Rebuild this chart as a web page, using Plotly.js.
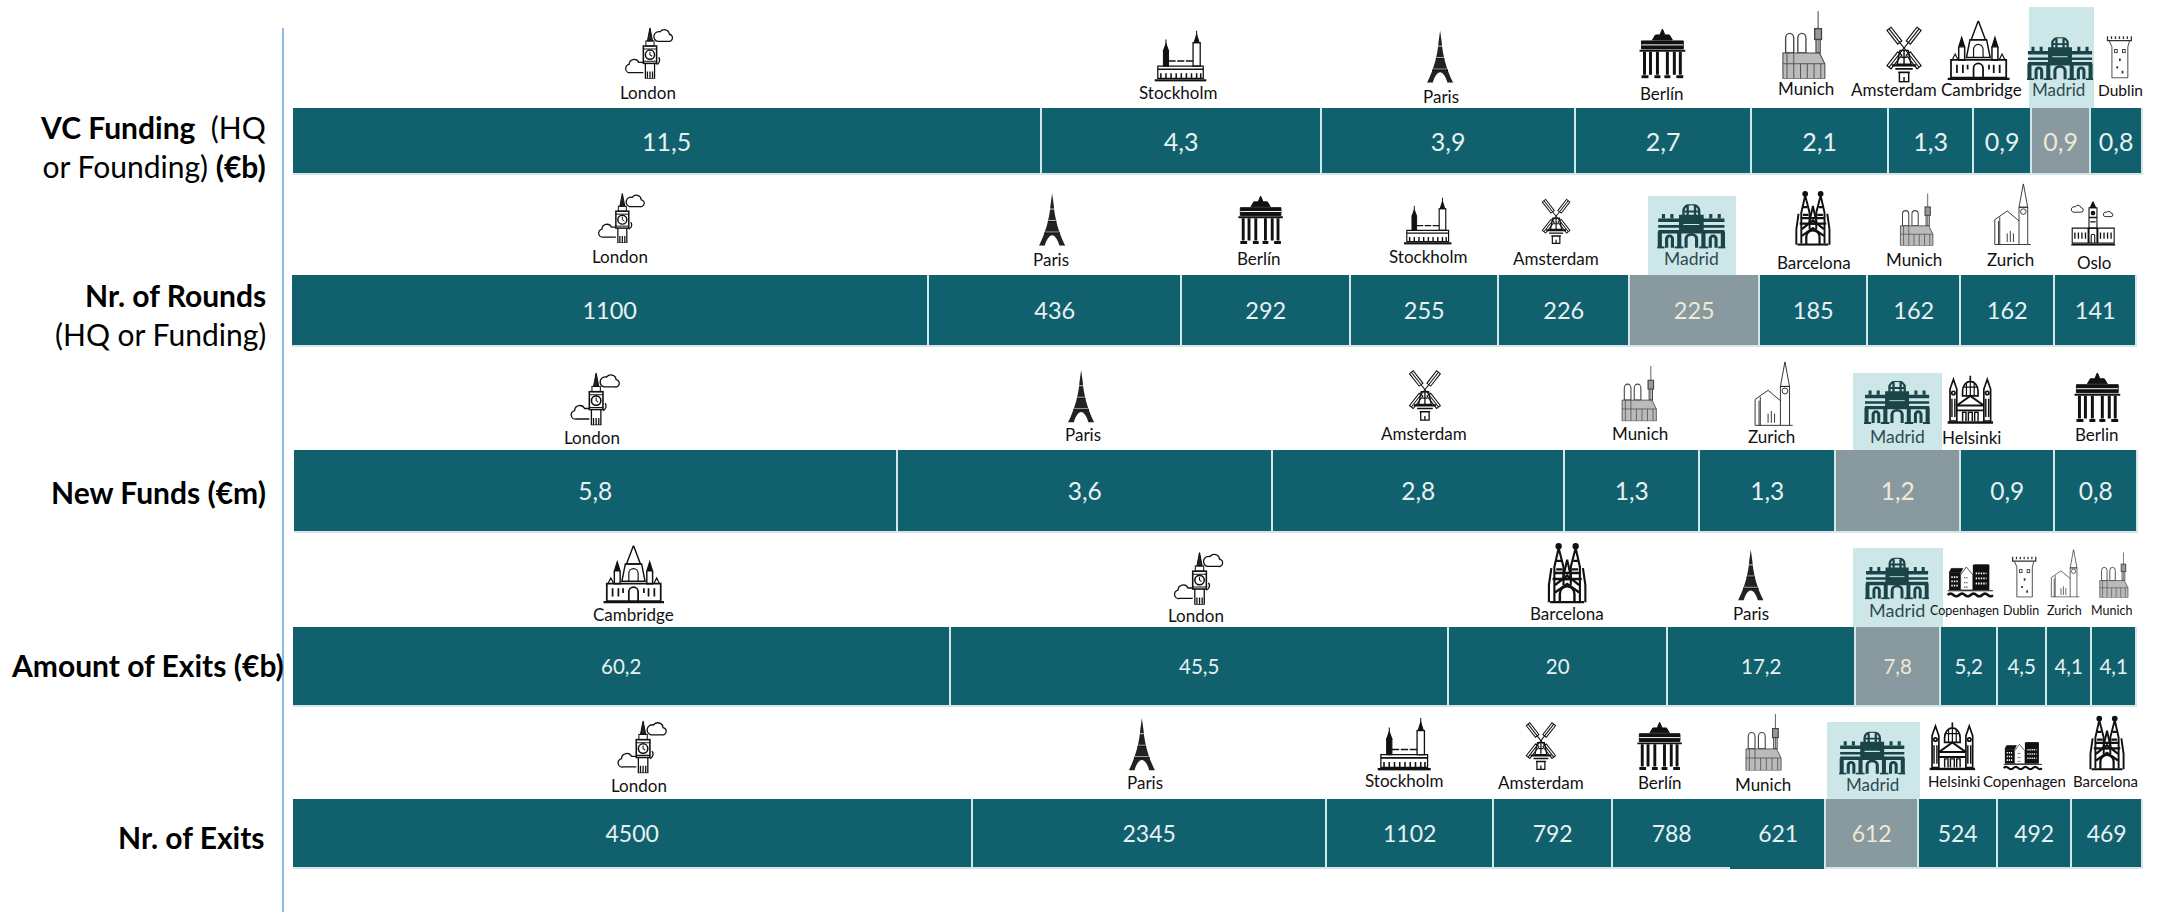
<!DOCTYPE html>
<html><head><meta charset="utf-8">
<script src="https://cdn.plot.ly/plotly-3.0.1.min.js"></script>
<style>html,body{margin:0;padding:0;background:#fff}#c{width:2165px;height:912px}</style>
</head><body><div id="c"></div>
<script>
// ---------- data ----------
const rowNames = ["VC Funding","Nr. of Rounds","New Funds","Amount of Exits","Nr. of Exits"];
const rowLabels = [
  "<b>VC Funding</b>  (HQ<br>or Founding) <b>(€b)</b>",
  "<b>Nr. of Rounds</b><br>(HQ or Funding)",
  "<b>New Funds (€m)</b>",
  "<b>Amount of Exits (€b)</b>",
  "<b>Nr. of Exits</b>"
];
const citiesVC = ["London","Stockholm","Paris","Berlín","Munich","Amsterdam","Cambridge","Madrid","Dublin"];
const valuesVC = [11.5,4.3,3.9,2.7,2.1,1.3,0.9,0.9,0.8];
const citiesRounds = ["London","Paris","Berlín","Stockholm","Amsterdam","Madrid","Barcelona","Munich","Zurich","Oslo"];
const valuesRounds = [1100,436,292,255,226,225,185,162,162,141];
const citiesFunds = ["London","Paris","Amsterdam","Munich","Zurich","Madrid","Helsinki","Berlin"];
const valuesFunds = [5.8,3.6,2.8,1.3,1.3,1.2,0.9,0.8];
const citiesAmount = ["Cambridge","London","Barcelona","Paris","Madrid","Copenhagen","Dublin","Zurich","Munich"];
const valuesAmount = [60.2,45.5,20,17.2,7.8,5.2,4.5,4.1,4.1];
const citiesExits = ["London","Paris","Stockholm","Amsterdam","Berlín","Munich","Madrid","Helsinki","Copenhagen","Barcelona"];
const valuesExits = [4500,2345,1102,792,788,621,612,524,492,469];
const allCities = [citiesVC,citiesRounds,citiesFunds,citiesAmount,citiesExits];
const allValues = [valuesVC,valuesRounds,valuesFunds,valuesAmount,valuesExits];

// ---------- layout placement (pixels on the 2165x912 page) ----------
const W = 2165, H = 912, S = 2165/1568;
const rowBox = [
  {x0:293,x1:2143,y0:108,y1:175,font:25,labelY:146,labelX:268},
  {x0:292,x1:2137,y0:275,y1:347,font:23.5,labelY:314,labelX:268},
  {x0:294,x1:2138,y0:450,y1:533,font:24.5,labelY:492,labelX:268},
  {x0:293,x1:2137,y0:627,y1:707,font:20.5,labelY:665,labelX:286},
  {x0:293,x1:2143,y0:799,y1:869,font:23,labelY:837,labelX:267}
];
// per city, in order: icon centre x, icon top, icon bottom, label x, label y, label size (shrunk-picture units)
const place = [
 [[470,20,57,469,67,17],[855,22,59,853,67,17],[1043,22,60,1044,70,17],[1204,21,57,1204,68,17],[1305,8,57,1308,64,17],[1379,18,60,1372,65,17],[1433,15,58,1435,65,17],[1492,27,58,1491,65,17],[1535,25,57,1536,65,15.5]],
 [[450,140,176,449,186,17],[762,140,178,761,188,17],[913,142,177,912,187,17],[1034,143,177,1034,186,17],[1127,143,177,1127,187,17],[1225,148,180,1225,187,17.5],[1313,138,178,1314,190,17],[1387,140,178,1386,188,17],[1458,133,178,1456,188,17],[1516,146,178,1517,190,17]],
 [[431,270,308,429,317,17],[783,268,306,784,315,17],[1032,267,305,1031,314,17],[1186,265,305,1188,314,17],[1285,262,309,1283,316,17],[1374,276,307,1374,316,17.5],[1427,272,307,1428,317,17],[1519,270,306,1519,315,17]],
 [[459,395,437,459,445,17],[868,400,438,866,446,17],[1135,393,437,1135,444,17],[1268,398,435,1268,444,17],[1374,404,434,1374,442,18],[1427,407,433,1423,442,12.5],[1466,402,433,1464,442,12.5],[1496,398,433,1495,442,12.5],[1530,400,433,1529,442,12.5]],
 [[465,522,560,463,569,17],[827,520,558,829,567,17],[1017,520,558,1017,565,17],[1116,522,558,1116,567,17],[1202,523,558,1202,567,17],[1276,517,558,1277,568,17],[1356,530,561,1356,568,17],[1414,523,558,1415,566,15],[1465,536,558,1466,566,15],[1526,518,558,1525,566,15]]
];
// Madrid highlight panels (full px)
const madridPanels = [[2029,2094,7,108],[1648,1736,196,275],[1853,1942,373,450],[1853,1943,548,627],[1827,1920,722,799]];

// ---------- icons ----------
const icon = {
 London:[96,`<path d="M50 0L45 26H55Z" fill="#222"/><rect x="42" y="26" width="16" height="10"/><rect x="37" y="36" width="26" height="34" stroke-width="3"/><circle cx="50" cy="53" r="9" stroke-width="3"/><path d="M50 47v6l4 3M37 42h26M37 66h26" /><path d="M41 70V100H59V70M45 86v14M50 86v14M55 86v14" stroke-width="2.5"/><path d="M65 27H86a7 7 0 0 0 2-14a10 10 0 0 0-18-5a9 9 0 0 0-5 19Z" stroke-width="2.5"/><path d="M37 88H12a8 8 0 0 1-3-16a10 10 0 0 1 19-4h9M63 72a9 9 0 0 0 4-14" stroke-width="2.5"/>`],
 Stockholm:[105,`<path d="M84 0v12M24 18v12" stroke-width="2"/><path d="M84 8l-5 16h10zM24 26l-5 14h10z" fill="#111"/><rect x="77" y="24" width="14" height="46" stroke-width="2.5"/><rect x="19" y="40" width="10" height="30" fill="#111"/><path d="M29 60H77" stroke-width="3" stroke-dasharray="14 3"/><path d="M8 70H97V94H8Z" stroke-width="2.5"/><path d="M8 76H97M14 94v-10M24 94v-10M34 94v-10M44 94v-10M54 94v-10M64 94v-10M74 94v-10M84 94v-10M92 94v-10" stroke-width="3"/><path d="M2 98H103" stroke-width="5"/>`],
 Paris:[58,`<path d="M29 0L26 22C24 46 18 72 4 100H15C18 88 24 80 29 80S40 88 43 100H54C40 72 34 46 32 22Z" fill="#222" stroke="none"/><path d="M22 52H36M16 74H42M25 30h8" stroke="#fff" stroke-width="1.5"/><path d="M14 76h30M21 54h16" stroke="#111" stroke-width="2.5"/>`],
 Berlin:[100,`<path d="M50 0l5 12h9l6 10H30l6-10h9z" fill="#111"/><path d="M8 24H92V40H8Z" fill="#111"/><path d="M8 32H92" stroke="#fff" stroke-width="2"/><path d="M4 44H96" stroke-width="4"/><path d="M14 46V92M26 46V92M40 46V92M60 46V92M74 46V92M86 46V92" stroke-width="6"/><path d="M8 96H22M34 96H46M54 96H66M78 96H92" stroke-width="6"/>`],
 Munich:[72,`<g stroke="#444"><path d="M60 0V100" stroke-width="1.5"/><rect x="55" y="26" width="10" height="16" fill="#999"/><path d="M57 42V62h6V42" stroke-width="2"/><path d="M12 40a6 7 0 0 1 12 0V62H12ZM30 40a6 7 0 0 1 12 0V62H30Z" stroke-width="2"/><path d="M8 62H62L70 78V100H8Z" fill="#bbb" stroke-width="1.5"/><path d="M8 78H70M14 62v38M24 62v38M34 78v22M44 78v22M54 78v22M64 78v22" stroke="#555" stroke-width="1.5"/></g>`],
 Amsterdam:[70,`<g stroke-width="2" transform="translate(35 40)"><g transform="rotate(38)"><rect x="-4.5" y="-42" width="9" height="30"/><rect x="-4.5" y="12" width="9" height="30"/><path d="M0-42V42"/></g><g transform="rotate(-38)"><rect x="-4.5" y="-42" width="9" height="30"/><rect x="-4.5" y="12" width="9" height="30"/><path d="M0-42V42"/></g></g><path d="M28 44h14l5 24H23Z M35 44V68M30 56h10" stroke-width="2.5"/><path d="M14 70H56" stroke-width="4"/><path d="M20 76H50M25 82H45" stroke-width="3"/><path d="M27 82V98H43V82M35 98V90" stroke-width="2.5"/>`],
 Cambridge:[105,`<path d="M52 0L40 32H64Z" stroke-width="2.5"/><path d="M38 32H66L72 62H32Z" stroke-width="2.5"/><path d="M44 62V48a8 8 0 0 1 16 0V62"/><path d="M24 28l-5 16h10zM80 28l-5 16h10z" fill="#111"/><path d="M19 44V66h10V44M75 44V66h10V44" stroke-width="2.5"/><path d="M8 66l5-10 5 10M87 66l5-10 5 10"/><path d="M6 66H99V96H6Z" stroke-width="3"/><path d="M44 96V80a8 8 0 0 1 16 0V96M16 74v14M26 74v14M78 74v14M88 74v14M34 74v8M70 74v8" stroke-width="3"/><path d="M0 98H105" stroke-width="4"/>`],
 Madrid:[155,`<g stroke="#1B4449" stroke-width="5" transform="scale(1.19 1)"><path d="M50 30V14a15 14 0 0 1 30 0V30M58 30V4M72 30V4M50 16H80" stroke-width="4.5"/><path d="M2 36H128" stroke-width="8"/><path d="M44 26H86V62H44Z" fill="#1B4449"/><path d="M50 46H80" stroke="#CDE7E9" stroke-width="3"/><path d="M12 32v-10M28 32v-10M102 32v-10M118 32v-10" stroke-width="6"/><path d="M2 50H128" stroke-width="6"/><path d="M2 62H128" stroke-width="8"/><path d="M5 62V98M125 62V98M42 62V98M88 62V98" stroke-width="8"/><path d="M18 98V78a5 6 0 0 1 11 0V98M55 98V78a10 10 0 0 1 20 0V98M101 98V78a5 6 0 0 1 11 0V98" stroke-width="6"/><path d="M0 98H14M33 98H50M80 98H97M116 98H130" stroke-width="5"/></g>`],
 Dublin:[66,`<g stroke="#333"><path d="M6 4v10h54V4M15 4v6M24 4v6M33 4v6M42 4v6M51 4v6" stroke-width="3"/><path d="M10 14L16 28V98H52V28L56 14" stroke-width="2"/><rect x="22" y="34" width="6" height="7" stroke-width="2"/><rect x="40" y="34" width="6" height="7" stroke-width="2"/><path d="M34 54v6M28 72v5M40 82v6" stroke-width="4"/></g>`],
 Barcelona:[68,`<g stroke-width="3.5"><circle cx="20" cy="6" r="3.5" fill="#111"/><circle cx="48" cy="6" r="3.5" fill="#111"/><path d="M20 9L13 40V96M20 9L28 40V70M48 9L40 40V70M48 9L55 40V96"/><path d="M34 28L27 60H41ZM8 42L4 70V98M60 42L64 70V98"/><path d="M6 98H62M10 60H58M14 70L34 54L54 70M14 82L34 68L54 82" stroke-width="4"/><path d="M22 98V84a12 12 0 0 1 24 0V98" stroke-width="4"/><path d="M16 44h10M42 44h10M16 30h8M44 30h8M12 50h44" stroke-width="4"/></g>`],
 Zurich:[67,`<g stroke="#222" stroke-width="1.4"><path d="M50 0L43 38H57Z"/><path d="M43 38H57V98H43Z"/><circle cx="50" cy="45" r="4.5"/><path d="M4 58L24 44L43 60M4 58V98H43M12 54V98M10 98V60M24 80v14M29 76v18M34 80v14"/><path d="M57 98H62"/></g>`],
 Oslo:[103,`<g stroke-width="2.5"><path d="M51 0L45 14H57Z" fill="#111"/><path d="M42 14H60V60H42Z"/><circle cx="51" cy="26" r="4" fill="#111"/><path d="M42 36H60M45 46h12" stroke-width="3"/><path d="M4 60H40V94H4ZM62 60H99V94H62ZM42 60H60V94H42Z"/><path d="M10 70v14M18 70v14M26 70v14M34 70v14M68 70v14M76 70v14M84 70v14M92 70v14" stroke-width="3"/><path d="M47 94V78a4 4 0 0 1 8 0V94"/><path d="M2 98H101" stroke-width="4"/><path d="M6 24H24a5 5 0 0 0 0-10a7 7 0 0 0-13-2a6 6 0 0 0-5 12ZM78 34H92a4 4 0 0 0 0-8a6 6 0 0 0-10-2a5 5 0 0 0-4 10Z" stroke-width="2"/></g>`],
 Helsinki:[98,`<g stroke="#111" stroke-width="3.5"><path d="M49 0v10M33 32a16 20 0 0 1 32 0V42H33Z" fill="#fff"/><path d="M35 24H63M49 12V42M41 14V42M57 14V42" stroke-width="2.5"/><path d="M14 8L7 28V94H21V28ZM84 8L77 28V94H91V28Z"/><circle cx="14" cy="36" r="3.5"/><circle cx="84" cy="36" r="3.5"/><path d="M21 62L49 42L77 62M21 62H77M21 72H77" stroke-width="4"/><path d="M33 94V76h7V94M45 94V76h8V94M58 94V76h7V94M11 48v38M17 48v38M81 48v38M87 48v38" stroke-width="3"/><path d="M2 97H96" stroke-width="5"/></g>`],
 Copenhagen:[130,`<path d="M6 30H38V78H6ZM72 8H118V78H72Z" fill="#111" stroke="none"/><path d="M38 78V36L54 14L72 36V78Z" fill="#fff" stroke-width="2"/><path d="M6 30H38L44 18H12ZM76 8H116V22H76Z" fill="#111"/><path d="M12 42h20M12 54h20M12 66h20M80 32h30M80 46h30M80 60h30" stroke="#fff" stroke-width="5" stroke-dasharray="4 3"/><path d="M48 44h12M48 58h12M48 70h12" stroke-width="3" stroke-dasharray="3 3"/><path d="M2 80H128" stroke-width="3"/><path d="M2 92q8-8 16 0t16 0t16 0t16 0t16 0t16 0t16 0t14 0" stroke-width="7"/>`]
};
function iconUri(name){
  const d = icon[name];
  const s = `<svg xmlns="http://www.w3.org/2000/svg" width="${d[0]*4}" height="400" viewBox="0 0 ${d[0]} 100"><g fill="none" stroke="#111" stroke-width="2">${d[1]}</g></svg>`;
  return "data:image/svg+xml;charset=utf-8," + encodeURIComponent(s);
}
const iconKey = c => c==="Berlín" ? "Berlin" : c;
const fmt = v => String(v).replace(".",",");
const TEAL = "#11606E", GREY = "#88999F", EDGE = "#D5E6E8";

// ---------- build ----------
const traces = [];
const layout = {
  width:W, height:H, margin:{l:0,r:0,t:0,b:0},
  paper_bgcolor:"#fff", plot_bgcolor:"rgba(0,0,0,0)",
  barmode:"stack", bargap:0, showlegend:false,
  font:{family:"Lato, 'Open Sans', sans-serif",color:"#111"},
  annotations:[], images:[], shapes:[]
};
layout.shapes.push({type:"line",xref:"paper",yref:"paper",x0:283/W,x1:283/W,y0:0,y1:1-28/H,line:{color:"#8FB8E2",width:2}});
madridPanels.forEach(p=>layout.shapes.push({type:"rect",layer:"below",xref:"paper",yref:"paper",
  x0:p[0]/W,x1:p[1]/W,y0:1-p[3]/H,y1:1-p[2]/H,fillcolor:"#CDE7E9",line:{width:0}}));

allValues.forEach((vals,r)=>{
  const box = rowBox[r], sfx = r===0?"":String(r+1);
  const total = vals.reduce((a,b)=>a+b,0);
  layout["xaxis"+sfx] = {domain:[box.x0/W,box.x1/W],range:[0,total],visible:false,fixedrange:true,anchor:"y"+sfx};
  layout["yaxis"+sfx] = {domain:[1-box.y1/H,1-box.y0/H],range:[-0.5,0.5],visible:false,fixedrange:true,anchor:"x"+sfx,type:"category"};
  vals.forEach((v,i)=>{
    const city = allCities[r][i], mad = city==="Madrid";
    const edge = (r===4 && city==="Munich") ? TEAL : EDGE;
    traces.push({type:"bar",orientation:"h",x:[v],y:[rowNames[r]],name:city,xaxis:"x"+sfx,yaxis:"y"+sfx,
      text:[fmt(v)],textposition:"inside",insidetextanchor:"middle",textangle:0,constraintext:"none",
      textfont:{family:"Lato, sans-serif",size:box.font,color:mad?"#EFE9D5":"#E6F1F2"},
      marker:{color:mad?GREY:TEAL,line:{color:edge,width:1.6}},
      hovertemplate:city+": %{text}<extra></extra>"});
    const p = place[r][i], k = iconKey(city);
    const top=p[1]*S, bot=p[2]*S, h=bot-top, w=h*icon[k][0]/100, cx=p[0]*S;
    layout.images.push({source:iconUri(k),xref:"paper",yref:"paper",x:(cx-w/2)/W,y:1-top/H,sizex:w/W,sizey:h/H,
      xanchor:"left",yanchor:"top",sizing:"stretch",layer:"above"});
    layout.annotations.push({xref:"paper",yref:"paper",x:p[3]*S/W,y:1-p[4]*S/H,xanchor:"center",yanchor:"middle",
      text:city,showarrow:false,font:{size:p[5],color:mad?"#2D4B52":"#111"}});
  });
  layout.annotations.push({xref:"paper",yref:"paper",x:box.labelX/W,y:1-box.labelY/H,xanchor:"right",yanchor:"middle",align:"right",
    text:rowLabels[r],showarrow:false,font:{size:30,color:"#000"}});
});
Plotly.newPlot("c",traces,layout,{displayModeBar:false,responsive:false});
</script>
</body></html>
